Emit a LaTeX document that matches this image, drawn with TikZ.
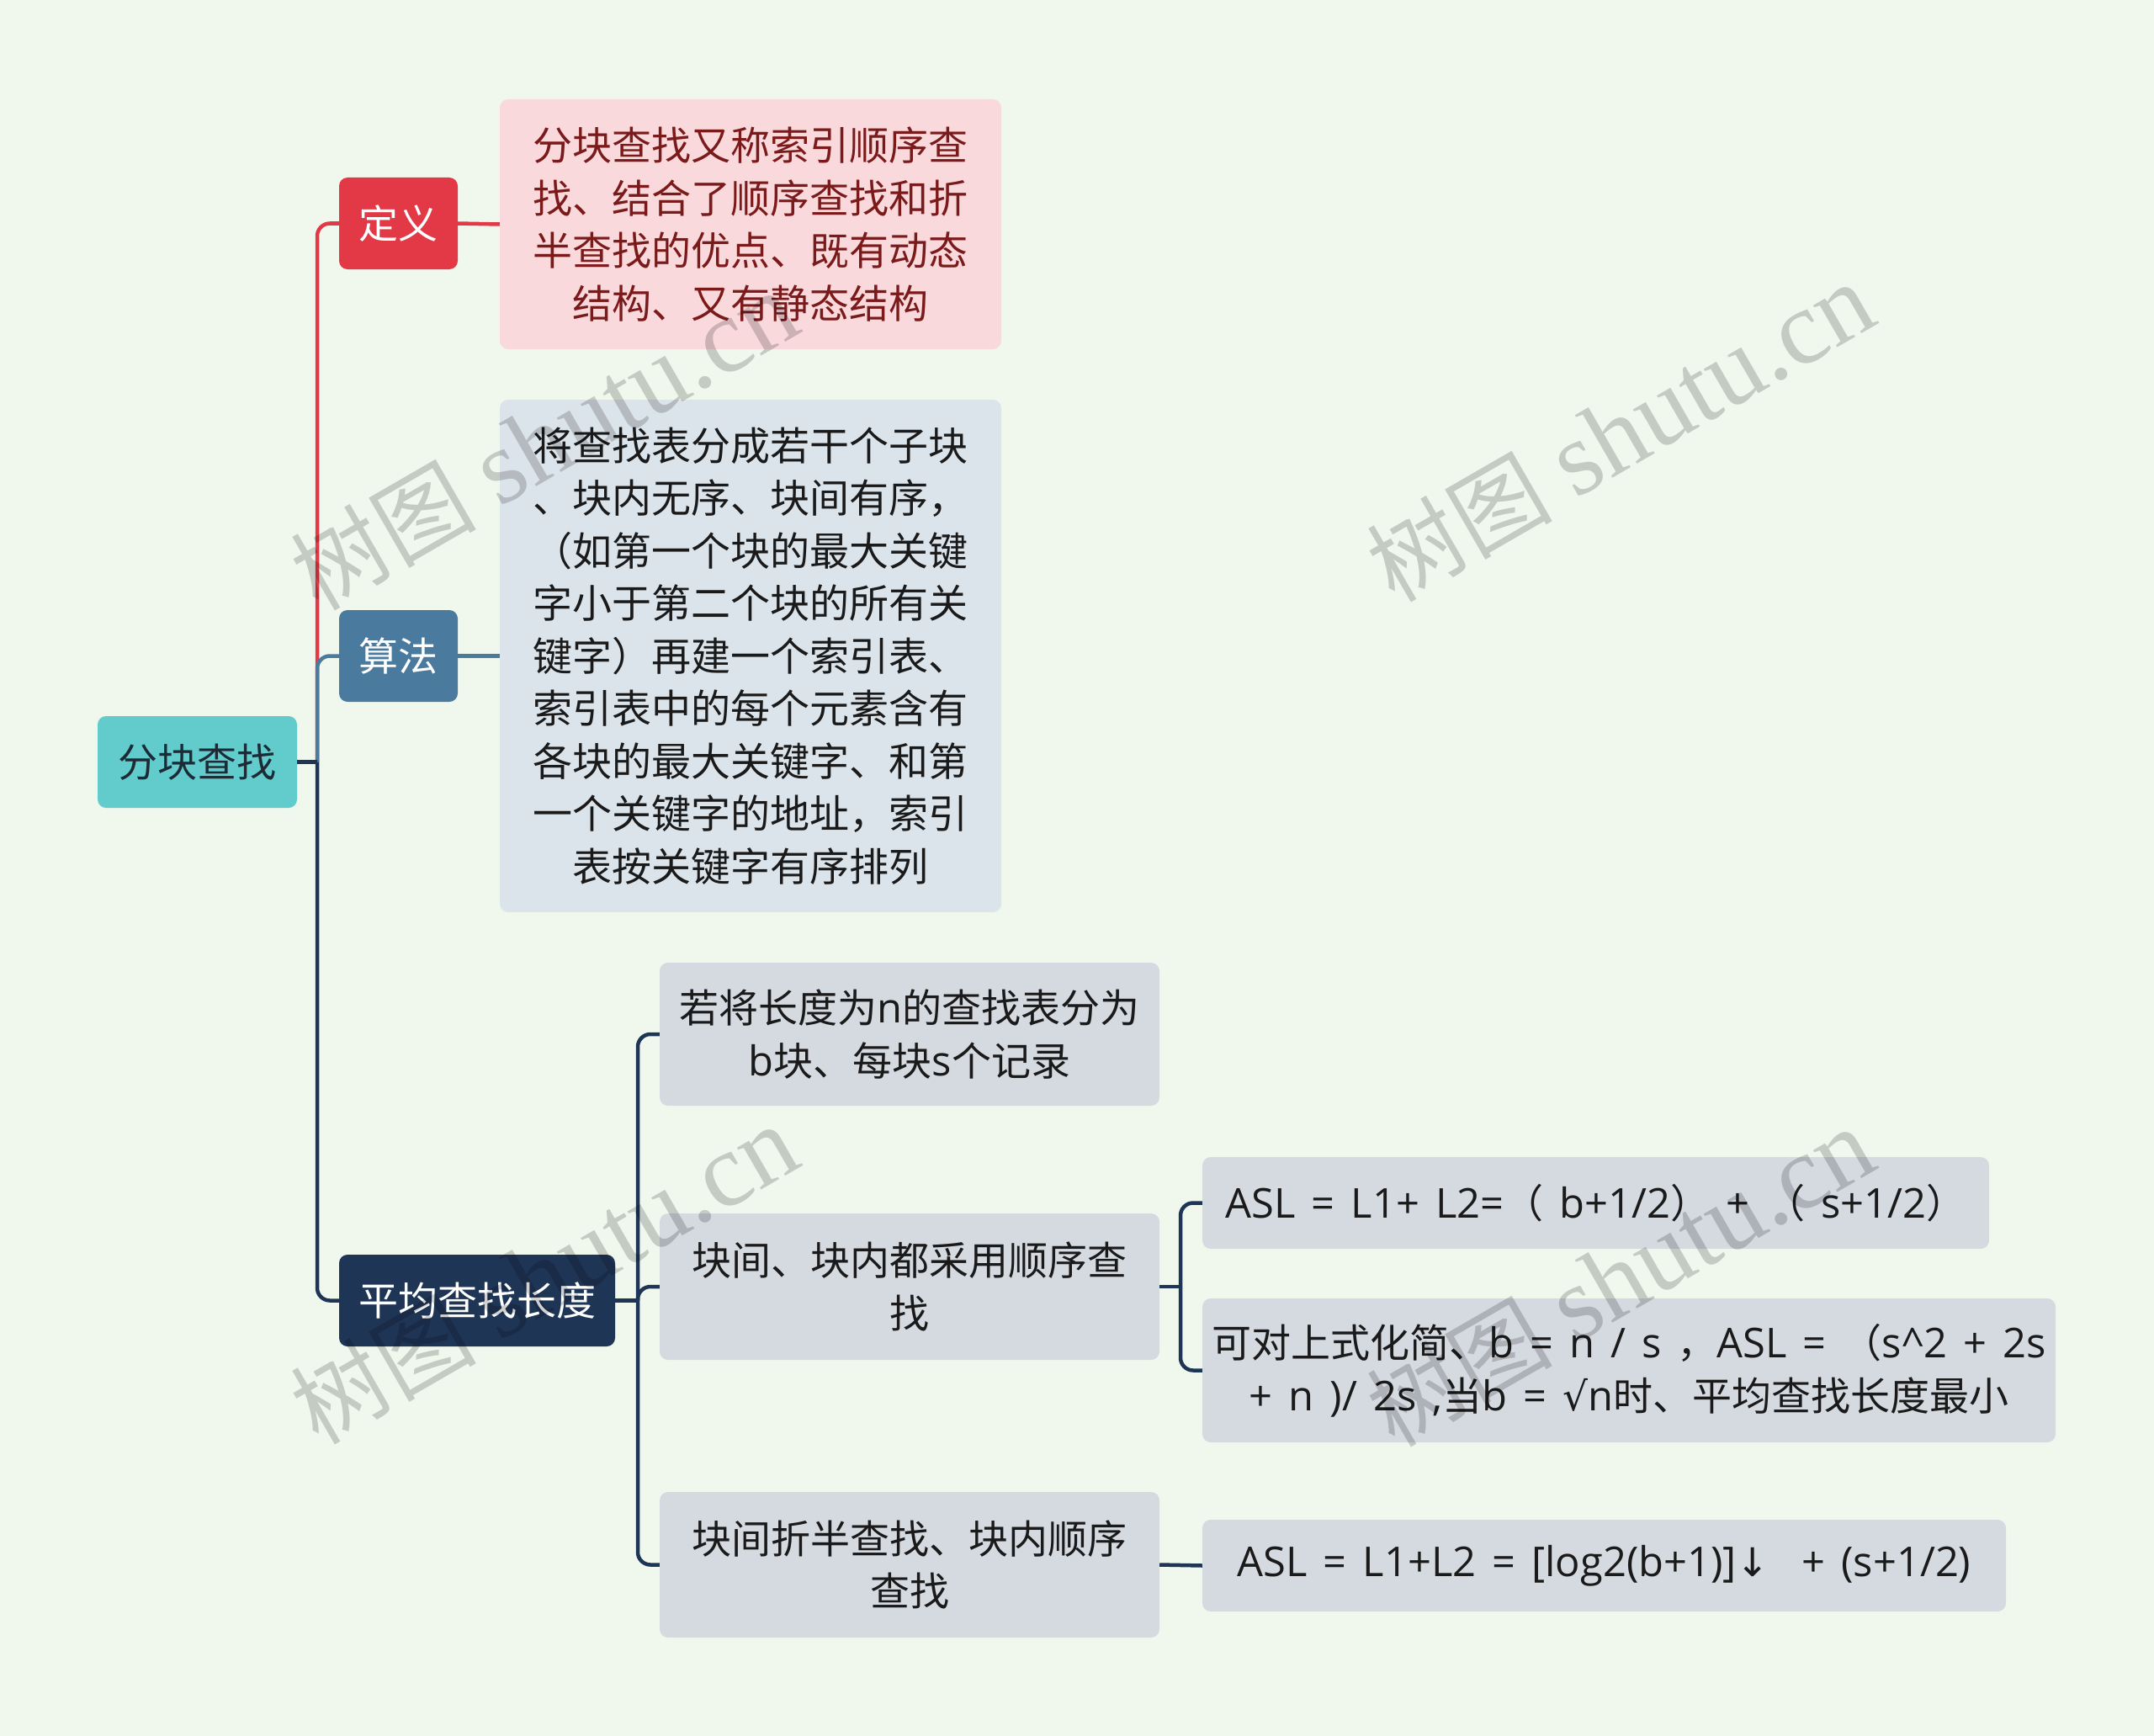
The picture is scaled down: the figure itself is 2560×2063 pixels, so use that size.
\documentclass[tikz,border=0pt]{standalone}
\usepackage{fontspec}
\setmainfont{Noto Sans CJK SC}
\newfontfamily\wmfont{Liberation Serif}
\newfontfamily\latf{Open Sans}[Scale=1.04, WordSpace=1.5]
\newfontfamily\symf{DejaVu Sans}
\definecolor{bgc}{HTML}{F0F8EE}
\definecolor{rootc}{HTML}{62CCCC}
\definecolor{roottxt}{HTML}{1D2B36}
\definecolor{redc}{HTML}{E33946}
\definecolor{pinkc}{HTML}{FAD9DC}
\definecolor{redtxt}{HTML}{7A1A1A}
\definecolor{bluec}{HTML}{4A7A9E}
\definecolor{paleblue}{HTML}{DCE4EB}
\definecolor{navyc}{HTML}{1F3556}
\definecolor{grayc}{HTML}{D5D9E0}
\definecolor{txtc}{HTML}{1A1A1A}
\begin{document}
\begin{tikzpicture}[x=1pt,y=-1pt,
  box/.style={rounded corners=10pt, inner sep=0pt, align=center,
    font=\fontsize{47}{62.5}\selectfont},
  link/.style={line width=4.5pt, rounded corners=15pt},
  stub/.style={line width=4.5pt},
  wm/.style={rotate=30, text=black, opacity=0.18, inner sep=0pt}]
\fill[bgc] (0,0) rectangle (2560,2063);
\useasboundingbox (0,0) rectangle (2560,2063);
% nodes
\node[box, fill=rootc, text=roottxt, minimum width=237pt, minimum height=109pt] (root) at (234.5,905.5) {分块查找};
\node[box, fill=redc, text=white, minimum width=141pt, minimum height=109pt] (dl) at (473.5,265.5) {定义};
\node[box, fill=pinkc, text=redtxt, minimum width=596pt, minimum height=297pt] (db) at (892,266.5)
  {分块查找又称索引顺序查\\找、结合了顺序查找和折\\半查找的优点、既有动态\\结构、又有静态结构};
\node[box, fill=bluec, text=white, minimum width=141pt, minimum height=109pt] (al) at (473.5,779.5) {算法};
\node[box, fill=paleblue, text=txtc, minimum width=596pt, minimum height=609pt] (ab) at (892,779.5)
  {将查找表分成若干个子块\\、块内无序、块间有序，\\（如第一个块的最大关键\\字小于第二个块的所有关\\键字）再建一个索引表、\\索引表中的每个元素含有\\各块的最大关键字、和第\\一个关键字的地址，索引\\表按关键字有序排列};
\node[box, fill=navyc, text=white, minimum width=328pt, minimum height=109pt] (av) at (567,1545.5) {平均查找长度};
\node[box, fill=grayc, text=txtc, minimum width=594pt, minimum height=170pt] (c1) at (1081,1229)
  {若将长度为{\latf n}的查找表分为\\{\latf b}块、每块{\latf s}个记录};
\node[box, fill=grayc, text=txtc, minimum width=594pt, minimum height=174pt] (c2) at (1081,1529)
  {块间、块内都采用顺序查\\找};
\node[box, fill=grayc, text=txtc, minimum width=594pt, minimum height=173pt] (c3) at (1081,1859.5)
  {块间折半查找、块内顺序\\查找};
\node[box, fill=grayc, text=txtc, minimum width=935pt, minimum height=109pt] (a1) at (1896.5,1429.5)
  {{\latf ASL = L1+ L2=}（{\latf\ b+1/2}）{\latf\ + }（{\latf\ s+1/2}）};
\node[box, fill=grayc, text=txtc, minimum width=1014pt, minimum height=171pt] (a2) at (1936,1628.5)
  {可对上式化简、{\latf b = n / s }，{\latf ASL = }（{\latf s\textasciicircum 2 + 2s}\\{\latf + n )/ 2s ,}当{\latf b = }{\symf √}{\latf n}时、平均查找长度最小};
\node[box, fill=grayc, text=txtc, minimum width=955pt, minimum height=109pt] (a3) at (1906.5,1860.5)
  {{\latf ASL = L1+L2 = [log2(b+1)]}{\symf ↓}{\latf\ \ + (s+1/2)}};
\coordinate (rj) at (377,905.5);
\coordinate (aj) at (758,1545.5);
\coordinate (cj) at (1403,1529);
% connectors
\draw[link, redc] (rj) |- (dl.west);
\draw[stub, redc] (dl.east) -- (db.west);
\draw[link, bluec] (rj) |- (al.west);
\draw[stub, bluec] (al.east) -- (ab.west);
\draw[link, navyc] (rj) |- (av.west);
\draw[stub, navyc] (root.east) -- (rj);
\draw[stub, navyc] (av.east) -- (aj);
\draw[link, navyc] (aj) |- (c1.west);
\draw[link, navyc] (aj) |- (c2.west);
\draw[link, navyc] (aj) |- (c3.west);
\draw[stub, navyc] (c2.east) -- (cj);
\draw[link, navyc] (cj) |- (a1.west);
\draw[link, navyc] (cj) |- (a2.west);
\draw[stub, navyc] (c3.east) -- (a3.west);
% watermarks
\foreach \n/\px/\py in {w1/647/524, w2/1926/514, w3/647/1515, w4/1926/1518}{
  \node[wm] (\n) at (\px,\py) {\fontsize{110}{120}\selectfont 树图\hspace{0.25em}{\wmfont\fontsize{125}{130}\selectfont shutu.cn}};
}
\end{tikzpicture}
\end{document}
